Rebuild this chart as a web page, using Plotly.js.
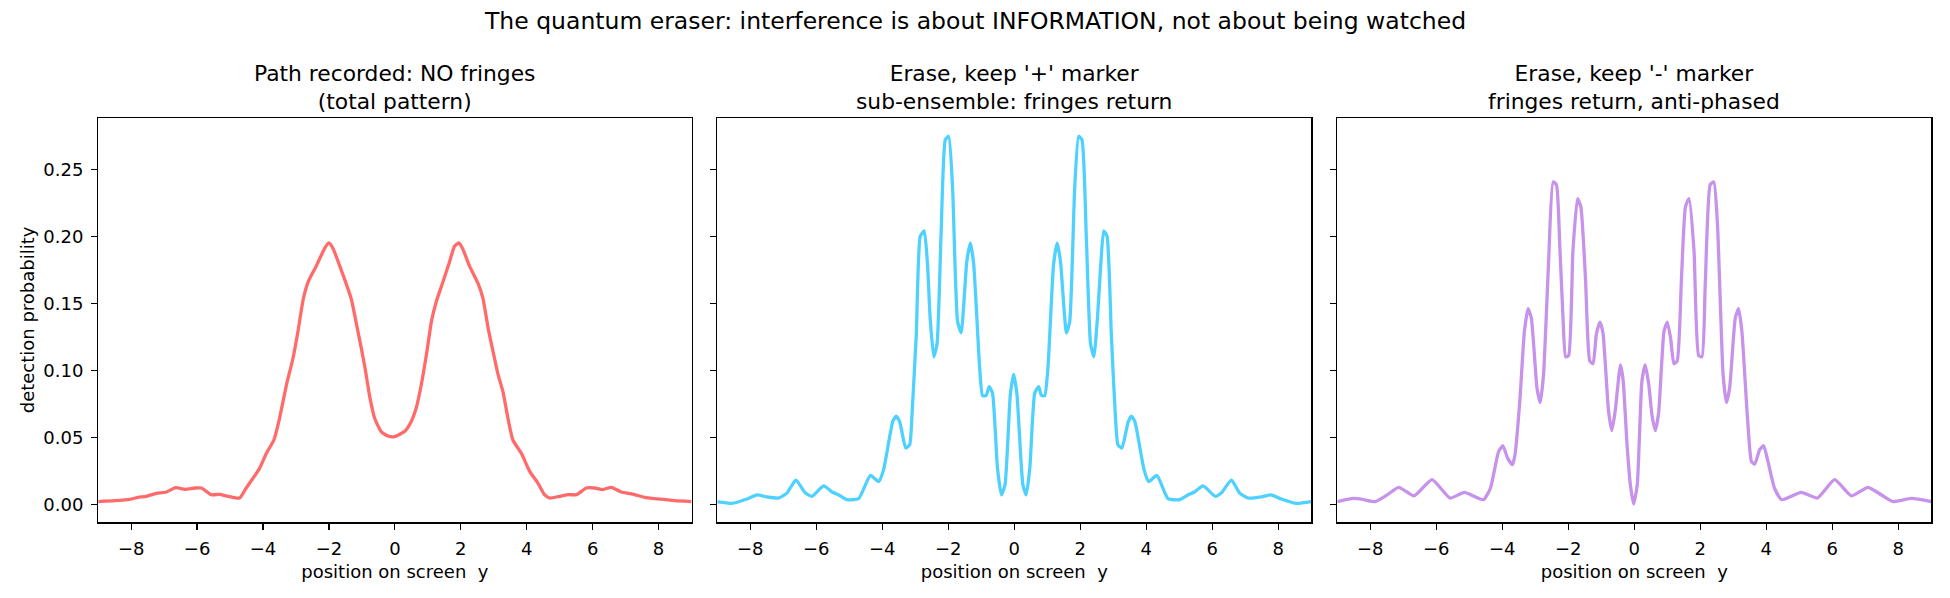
<!DOCTYPE html>
<html>
<head>
<meta charset="utf-8">
<script src="https://cdn.plot.ly/plotly-3.0.1.min.js"></script>
<style>
  html, body { margin: 0; padding: 0; background: #fff; }
  #chart { width: 1950px; height: 598px; }
</style>
</head>
<body>
<div id="chart"></div>
<script>
// === Data === //

// panel 1: path recorded, total pattern
var totalY = [-9.0, -8.5, -8.04, -7.79, -7.54, -7.24, -6.93, -6.65, -6.36, -6.07, -5.87, -5.57, -5.32, -5.06, -4.71,
    -4.51, -4.30, -4.10, -3.90, -3.67, -3.50, -3.29, -3.09, -2.94, -2.78, -2.63, -2.38, -2.13, -2.00, -1.88,
    -1.57, -1.32, -1.12, -0.92, -0.76, -0.61, -0.41, -0.21, 0.0, 0.30, 0.50, 0.65, 0.80, 0.96, 1.11, 1.26,
    1.46, 1.66, 1.81, 1.94, 2.07, 2.27, 2.52, 2.67, 2.83, 2.98, 3.13, 3.28, 3.43, 3.58, 3.84, 4.09, 4.34,
    4.54, 4.70, 4.95, 5.25, 5.51, 5.81, 6.06, 6.31, 6.57, 6.87, 7.22, 7.58, 7.98, 8.49, 9.0];
var totalP = [0.002, 0.0027, 0.0037, 0.0052, 0.006, 0.0082, 0.0092, 0.0124, 0.0112, 0.0122, 0.0122, 0.0072, 0.0075, 0.006, 0.0047,
    0.0122, 0.0196, 0.027, 0.038, 0.048, 0.064, 0.089, 0.109, 0.129, 0.153, 0.166, 0.178, 0.191, 0.195, 0.191,
    0.171, 0.153, 0.129, 0.104, 0.08, 0.064, 0.054, 0.051, 0.0505, 0.0545, 0.062, 0.072, 0.089, 0.112, 0.1365, 0.1515,
    0.166, 0.181, 0.1925, 0.195, 0.190, 0.1775, 0.165, 0.154, 0.1315, 0.114, 0.097, 0.084, 0.0644, 0.048, 0.038, 0.0246, 0.0159,
    0.0072, 0.0047, 0.0057, 0.0072, 0.0072, 0.0122, 0.0122, 0.011, 0.0127, 0.0092, 0.0077, 0.0052, 0.004, 0.0027, 0.002];

// panel 2: erased, '+' marker kept
var plusY = [-9.0, -8.56, -8.10, -7.80, -7.49, -7.14, -6.89, -6.62, -6.33, -6.13, -5.78, -5.52, -5.32, -5.07, -4.72,
    -4.36, -4.11, -3.96, -3.68, -3.58, -3.47, -3.29, -3.17, -3.10, -2.97, -2.85, -2.73, -2.63, -2.55, -2.44,
    -2.34, -2.22, -2.09, -1.99, -1.87, -1.72, -1.61, -1.44, -1.33, -1.23, -1.05, -0.96, -0.85, -0.76, -0.66,
    -0.51, -0.39, -0.28, -0.12, -0.02, 0.08, 0.26, 0.36, 0.47, 0.62, 0.74, 0.82, 0.92, 1.02, 1.19, 1.30,
    1.40, 1.58, 1.68, 1.83, 1.95, 2.05, 2.18, 2.31, 2.41, 2.52, 2.62, 2.71, 2.81, 2.94, 3.06, 3.14, 3.26,
    3.45, 3.55, 3.65, 3.93, 4.07, 4.32, 4.66, 5.01, 5.26, 5.46, 5.72, 6.09, 6.27, 6.58, 6.83, 7.08, 7.49,
    7.77, 8.09, 8.55, 9.0];
var plusP = [0.002, 0.0007, 0.004, 0.007, 0.0055, 0.0047, 0.0084, 0.018, 0.0084, 0.006, 0.0137, 0.0092, 0.007, 0.0035, 0.0042,
    0.0216, 0.017, 0.026, 0.062, 0.0657, 0.0614, 0.042, 0.0445, 0.067, 0.127, 0.200, 0.204, 0.179, 0.139, 0.110,
    0.120, 0.201, 0.272, 0.2746, 0.236, 0.1365, 0.128, 0.181, 0.195, 0.179, 0.102, 0.081, 0.0813, 0.0878, 0.083,
    0.027, 0.007, 0.0147, 0.082, 0.097, 0.082, 0.0147, 0.007, 0.027, 0.083, 0.0878, 0.0813, 0.081, 0.102, 0.179, 0.195,
    0.181, 0.128, 0.1365, 0.236, 0.2746, 0.272, 0.201, 0.120, 0.110, 0.139, 0.179, 0.204, 0.200, 0.127, 0.067, 0.0445, 0.042,
    0.0614, 0.0657, 0.062, 0.026, 0.017, 0.0216, 0.0042, 0.0035, 0.007, 0.0092, 0.0137, 0.006, 0.0084, 0.018, 0.0084, 0.0047, 0.0055,
    0.007, 0.004, 0.0007, 0.002];

// panel 3: erased, '-' marker kept
var minusY = [-9.0, -8.5, -8.2, -7.85, -7.49, -7.14, -6.67, -6.13, -5.58, -5.15, -4.57, -4.36, -4.11, -3.98, -3.84,
    -3.69, -3.61, -3.47, -3.33, -3.22, -3.12, -2.95, -2.85, -2.75, -2.60, -2.46, -2.36, -2.26, -2.16, -2.08,
    -1.99, -1.86, -1.72, -1.62, -1.48, -1.35, -1.25, -1.15, -1.04, -0.95, -0.78, -0.68, -0.58, -0.42, -0.34,
    -0.22, -0.12, -0.02, 0.09, 0.23, 0.33, 0.44, 0.54, 0.64, 0.74, 0.90, 1.00, 1.10, 1.20, 1.30, 1.43,
    1.55, 1.66, 1.81, 1.95, 2.05, 2.15, 2.30, 2.41, 2.52, 2.69, 2.79, 2.89, 3.06, 3.16, 3.26, 3.43, 3.55,
    3.65, 3.80, 3.92, 4.05, 4.25, 4.46, 5.06, 5.55, 6.07, 6.58, 7.08, 7.49, 7.84, 8.4, 9.0];
var minusP = [0.002, 0.0044, 0.0035, 0.002, 0.007, 0.0127, 0.0064, 0.0184, 0.0047, 0.0089, 0.0035, 0.012, 0.0395, 0.0437, 0.0345,
    0.0296, 0.038, 0.077, 0.129, 0.146, 0.139, 0.087, 0.076, 0.097, 0.179, 0.2405, 0.2385, 0.194, 0.139, 0.110,
    0.111, 0.189, 0.228, 0.222, 0.169, 0.107, 0.105, 0.127, 0.136, 0.128, 0.0694, 0.055, 0.0694, 0.104, 0.093,
    0.0445, 0.0147, 0.0002, 0.0147, 0.0918, 0.104, 0.089, 0.0657, 0.055, 0.069, 0.129, 0.136, 0.124, 0.105, 0.107, 0.169,
    0.222, 0.228, 0.189, 0.111, 0.110, 0.164, 0.2385, 0.2405, 0.209, 0.097, 0.076, 0.087, 0.139, 0.146, 0.129, 0.0644, 0.032,
    0.030, 0.0408, 0.0437, 0.032, 0.012, 0.0035, 0.0089, 0.0047, 0.0184, 0.0064, 0.0127, 0.007, 0.002, 0.0044, 0.002];

var xTickVals = [-8, -6, -4, -2, 0, 2, 4, 6, 8];
var xTickText = ['\u22128', '\u22126', '\u22124', '\u22122', '0', '2', '4', '6', '8'];
var yTickVals = [0, 0.05, 0.10, 0.15, 0.20, 0.25];

var panelTitles = [
    'Path recorded: NO fringes<br>(total pattern)',
    "Erase, keep '+' marker<br>sub-ensemble: fringes return",
    "Erase, keep '-' marker<br>fringes return, anti-phased"
];
var mainTitle = 'The quantum eraser: interference is about INFORMATION, not about being watched';
var xLabel = 'position on screen\u00a0 y';
var yLabel = 'detection probability';

// === Layout helpers === //
var W = 1950, H = 598;
var FONT = 'DejaVu Sans, Verdana, sans-serif';
var colors = ['#ff6b6b', '#4fd1ff', '#c792ea'];

// pixel edges of the three panels
var panelLeft = [98.2, 717.3, 1337.3];
var panelRight = [691.5, 1311.3, 1931.3];
var plotTop = 118.3, plotBottom = 522.3;

function px(x){ return x / W; }
function py(y){ return 1 - y / H; }

var series = [[totalY, totalP], [plusY, plusP], [minusY, minusP]];
var traces = [];
series.forEach(function(s, i){
    traces.push({
        x: s[0],
        y: s[1],
        type: 'scatter',
        mode: 'lines',
        line: {color: colors[i], width: 3.3, shape: 'spline', smoothing: 0.5},
        xaxis: i === 0 ? 'x' : 'x' + (i + 1),
        yaxis: i === 0 ? 'y' : 'y' + (i + 1),
        hoverinfo: 'skip',
        showlegend: false
    });
});

var layout = {
    width: W,
    height: H,
    margin: {l: 0, r: 0, t: 0, b: 0},
    paper_bgcolor: '#fff',
    plot_bgcolor: '#fff',
    font: {family: FONT, size: 18, color: '#000'},
    showlegend: false,
    annotations: []
};

for (var i = 0; i < 3; i++){
    var sfx = i === 0 ? '' : String(i + 1);
    layout['xaxis' + sfx] = {
        domain: [px(panelLeft[i]), px(panelRight[i])],
        anchor: 'y' + sfx,
        range: [-9, 9],
        tickvals: xTickVals,
        ticktext: xTickText,
        ticks: 'outside',
        ticklen: 6,
        tickwidth: 1.2,
        tickcolor: '#000',
        ticklabelstandoff: 4,
        showline: true,
        linecolor: '#000',
        linewidth: 1.2,
        mirror: true,
        showgrid: false,
        zeroline: false,
        tickfont: {family: FONT, size: 18, color: '#000'},
        title: {text: xLabel, font: {family: FONT, size: 18, color: '#000'}, standoff: 7}
    };
    layout['yaxis' + sfx] = {
        domain: [py(plotBottom), py(plotTop)],
        anchor: 'x' + sfx,
        range: [-0.0134, 0.288],
        tickvals: yTickVals,
        tickformat: '.2f',
        showticklabels: i === 0,
        ticks: 'outside',
        ticklen: 6,
        tickwidth: 1.2,
        tickcolor: '#000',
        ticklabelstandoff: 4,
        showline: true,
        linecolor: '#000',
        linewidth: 1.2,
        mirror: true,
        showgrid: false,
        zeroline: false,
        tickfont: {family: FONT, size: 18, color: '#000'}
    };

    // panel title
    layout.annotations.push({
        text: panelTitles[i],
        xref: 'paper', yref: 'paper',
        x: px((panelLeft[i] + panelRight[i]) / 2),
        y: py(plotTop - 2.5),
        xanchor: 'center', yanchor: 'bottom',
        showarrow: false,
        font: {family: FONT, size: 21.8, color: '#000'}
    });
}

// suptitle
layout.annotations.push({
    text: mainTitle,
    xref: 'paper', yref: 'paper',
    x: 0.5, y: py(21),
    xanchor: 'center', yanchor: 'middle',
    showarrow: false,
    font: {family: FONT, size: 23.5, color: '#000'}
});

// y label, shared by the row
layout.annotations.push({
    text: yLabel,
    xref: 'paper', yref: 'paper',
    x: px(27), y: py((plotTop + plotBottom) / 2),
    xanchor: 'center', yanchor: 'middle',
    textangle: -90,
    showarrow: false,
    font: {family: FONT, size: 18, color: '#000'}
});

Plotly.newPlot('chart', traces, layout, {displayModeBar: false, staticPlot: true});
</script>
</body>
</html>
